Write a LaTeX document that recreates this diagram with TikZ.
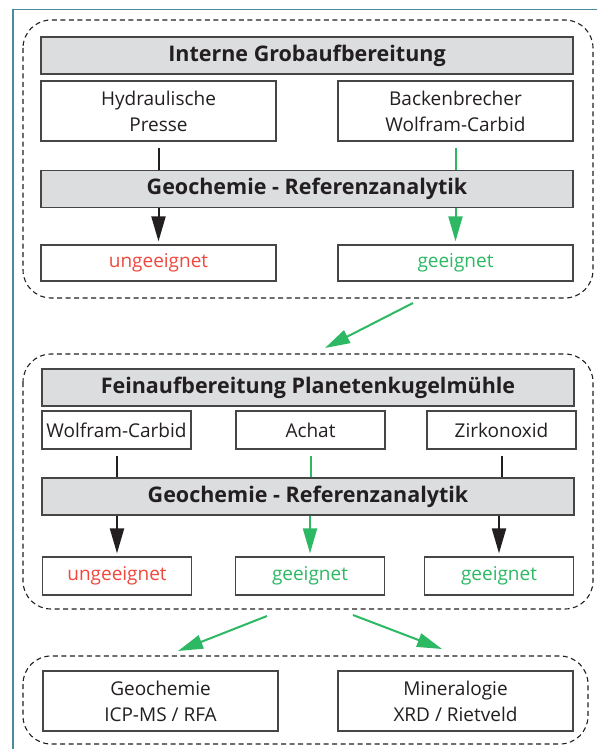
\documentclass[tikz,border=0pt]{standalone}
\usepackage{fontspec}
\setmainfont{Open Sans}
\usetikzlibrary{arrows.meta,calc}
\definecolor{teal1}{RGB}{72,140,160}
\definecolor{boxgray}{RGB}{220,221,223}
\definecolor{edgegray}{RGB}{70,70,70}
\definecolor{okgreen}{RGB}{45,185,100}
\definecolor{badred}{RGB}{240,72,62}
\definecolor{txt}{RGB}{35,31,32}
\tikzset{
  grp/.style={draw=txt, line width=1.1pt, dash pattern=on 5pt off 3.5pt, rounded corners=28pt},
  titlebox/.style={draw=edgegray, fill=boxgray, line width=1.2pt, minimum width=532pt, minimum height=37pt, inner sep=0pt, text=txt, font=\fontsize{21.5}{25}\selectfont\bfseries},
  bigbox/.style={draw=edgegray, fill=white, line width=1.2pt, minimum width=235pt, minimum height=60pt, inner sep=0pt, align=center, text=txt, font=\fontsize{19}{26}\selectfont},
  resbox/.style={draw=edgegray, fill=white, line width=1.2pt, minimum width=235pt, minimum height=36pt, inner sep=0pt, font=\fontsize{19}{22}\selectfont},
  smallbox/.style={draw=edgegray, fill=white, line width=1.2pt, minimum width=149pt, minimum height=38pt, inner sep=0pt, text=txt, font=\fontsize{19}{22}\selectfont},
  blk/.style={draw=txt, line width=2pt},
  grn/.style={draw=okgreen, line width=2pt},
  blkarr/.style={blk, -{Triangle[length=25pt, width=14pt]}, shorten >=3pt},
  grnarr/.style={grn, -{Triangle[length=25pt, width=14pt]}},
}
\begin{document}
\begin{tikzpicture}[x=1pt,y=-1pt]
\useasboundingbox (0,0) rectangle (597,749);
% outer teal frame
\draw[teal1, line width=1.5pt] (597,9.5) -- (13,9.5) -- (13,749);
% groups
\draw[grp] (23,20) rectangle (593,298);
\draw[grp] (23,354) rectangle (593,609);
\draw[grp] (23,656) rectangle (588,744);
% group 1
\node[titlebox] (t1) at (307,55.5) {Interne Grobaufbereitung};
\node[bigbox] (hp) at (158.5,111) {Hydraulische\\Presse};
\node[bigbox] (bb) at (455.5,111) {Backenbrecher\\Wolfram-Carbid};
\node[titlebox] (g1) at (307,189) {Geochemie - Referenzanalytik};
\node[resbox, text=badred] (u1) at (158.5,263) {ungeeignet};
\node[resbox, text=okgreen] (e1) at (455.5,263) {geeignet};
\draw[blk, shorten <=6pt] (hp.south) -- (hp.south |- g1.north);
\draw[grn, shorten <=6pt] (bb.south) -- (bb.south |- g1.north);
\draw[blkarr] (u1.north |- g1.south) -- (u1.north);
\draw[grnarr, shorten >=3pt] (e1.north |- g1.south) -- (e1.north);
% group 2
\node[titlebox] (t2) at (308,387.5) {Feinaufbereitung Planetenkugelmühle};
\node[smallbox] (wc) at (116.5,430) {Wolfram-Carbid};
\node[smallbox] (ac) at (310.5,430) {Achat};
\node[smallbox] (zo) at (501.5,430) {Zirkonoxid};
\node[titlebox] (g2) at (308,496.5) {Geochemie - Referenzanalytik};
\node[smallbox, text=badred] (u2) at (117,576) {ungeeignet};
\node[smallbox, text=okgreen] (e2) at (310,576) {geeignet};
\node[smallbox, text=okgreen] (e3) at (499,576) {geeignet};
\draw[blk, shorten <=6pt] (wc.south) -- (wc.south |- g2.north);
\draw[grn, shorten <=6pt] (ac.south) -- (ac.south |- g2.north);
\draw[blk, shorten <=6pt] (zo.south) -- (zo.south |- g2.north);
\draw[blkarr] (u2.north |- g2.south) -- (u2.north);
\draw[grnarr, shorten >=3pt] (e2.north |- g2.south) -- (e2.north);
\draw[blkarr] (e3.north |- g2.south) -- (e3.north);
% group 3
\node[bigbox] (gc) at (160.5,701) {Geochemie\\ICP-MS / RFA};
\node[bigbox] (mi) at (455.5,701) {Mineralogie\\XRD / Rietveld};
% inter-group arrows
\coordinate (a1s) at (413,303);
\coordinate (a1e) at (325,348);
\coordinate (a2s) at (267,616);
\coordinate (a2e) at (178,651);
\coordinate (a3s) at (353,615);
\coordinate (a3e) at (442,649);
\draw[grnarr] (a1s) -- (a1e);
\draw[grnarr] (a2s) -- (a2e);
\draw[grnarr] (a3s) -- (a3e);
\end{tikzpicture}
\end{document}
